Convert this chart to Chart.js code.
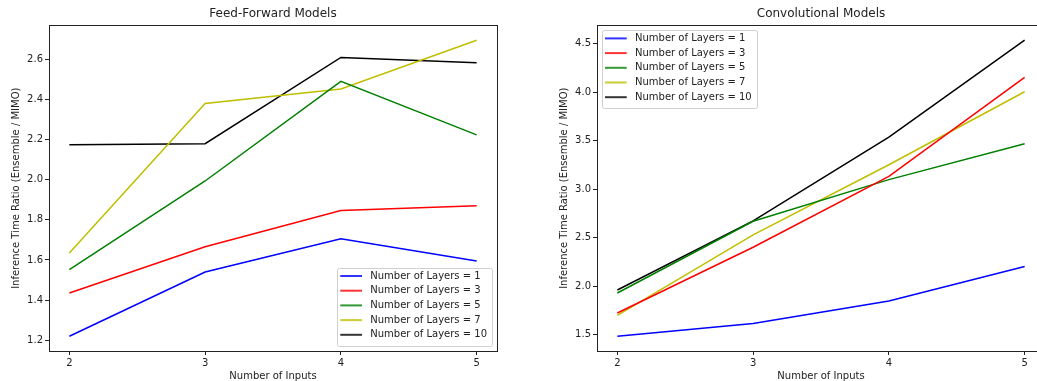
<!DOCTYPE html>
<html lang="en">
<head>
    <meta charset="UTF-8">
    <title>Inference Time Ratio</title>
    <style>
        * { margin: 0; padding: 0; box-sizing: border-box; }
        html, body { width: 1037px; height: 381px; overflow: hidden; background: #fff; }
        canvas { position: absolute; top: 0; }
        #ffChart { left: 0; }
        #convChart { left: 548px; }
    </style>
    <script src="https://cdn.jsdelivr.net/npm/chart.js"></script>
</head>
<body>
    <canvas id="ffChart" width="505" height="386"></canvas>
    <canvas id="convChart" width="505" height="386"></canvas>

    <script>
        // number of inputs on the x axis
        const inputs = [2, 3, 4, 5];
        const layerCounts = [1, 3, 5, 7, 10];
        const lineColors = ['#0000ff', '#ff0000', '#008000', '#bfbf00', '#000000'];

        // feed-forward models: ratio per layer count
        const ffLayers1 = [1.22, 1.54, 1.706, 1.595];
        const ffLayers3 = [1.435, 1.666, 1.847, 1.871];
        const ffLayers5 = [1.552, 1.994, 2.491, 2.224];
        const ffLayers7 = [1.635, 2.38, 2.453, 2.696];
        const ffLayers10 = [2.175, 2.18, 2.61, 2.583];

        // convolutional models: ratio per layer count
        const convLayers1 = [1.483, 1.613, 1.845, 2.202];
        const convLayers3 = [1.722, 2.40, 3.13, 4.151];
        const convLayers5 = [1.928, 2.668, 3.097, 3.466];
        const convLayers7 = [1.698, 2.528, 3.25, 4.003];
        const convLayers10 = [1.959, 2.672, 3.534, 4.534];

        const xTicks = [2, 3, 4, 5];
        const ffTicks = [1.2, 1.4, 1.6, 1.8, 2.0, 2.2, 2.4, 2.6];
        const convTicks = [1.5, 2.0, 2.5, 3.0, 3.5, 4.0, 4.5];

        const FONT = '"DejaVu Sans", sans-serif';
        const INK = '#222';

        // top/right spines to close the axes box
        const frame = {
            id: 'frame',
            afterDatasetsDraw(chart) {
                const { ctx, chartArea: a } = chart;
                ctx.save();
                ctx.strokeStyle = INK;
                ctx.lineWidth = 1;
                ctx.strokeRect(Math.round(a.left) + 0.5, Math.round(a.top) + 0.5,
                    Math.round(a.right - a.left), Math.round(a.bottom - a.top));
                ctx.restore();
            }
        };

        // legend drawn inside the plot area
        const insideLegend = {
            id: 'insideLegend',
            afterDraw(chart, args, opts) {
                const { ctx, chartArea: a } = chart;
                const sets = chart.data.datasets;
                ctx.save();
                ctx.font = '10px ' + FONT;
                const rowH = 14.7;
                const textW = Math.max(...sets.map(d => ctx.measureText(d.label).width));
                const w = 3.5 + 21.7 + 8.3 + textW + 5;
                const h = sets.length * rowH + 4;
                const x = opts.corner === 'lower right' ? a.right - 5 - w : a.left + 4.5;
                const y = opts.corner === 'lower right' ? a.bottom - 6 - h : a.top + 4.5;
                ctx.beginPath();
                ctx.roundRect(Math.round(x) + 0.5, Math.round(y) + 0.5, Math.round(w), Math.round(h), 2);
                ctx.fillStyle = 'rgba(255,255,255,0.8)';
                ctx.fill();
                ctx.strokeStyle = '#d0d0d0';
                ctx.lineWidth = 1;
                ctx.stroke();
                ctx.textBaseline = 'middle';
                sets.forEach((d, i) => {
                    const cy = y + 8.5 + i * rowH;
                    ctx.globalAlpha = 0.8;
                    ctx.strokeStyle = d.borderColor;
                    ctx.lineWidth = 2;
                    ctx.beginPath();
                    ctx.moveTo(x + 3.5, cy);
                    ctx.lineTo(x + 25.2, cy);
                    ctx.stroke();
                    ctx.globalAlpha = 1;
                    ctx.fillStyle = INK;
                    ctx.fillText(d.label, x + 33.5, cy);
                });
                ctx.restore();
            }
        };

        function bounds(series) {
            const all = series.flat();
            const lo = Math.min(...all), hi = Math.max(...all);
            const pad = (hi - lo) * 0.05;
            return [lo - pad, hi + pad];
        }

        function makeChart(id, title, series, yTicks, corner) {
            const [yMin, yMax] = bounds(series);
            const datasets = series.map((vals, i) => ({
                label: `Number of Layers = ${layerCounts[i]}`,
                data: inputs.map((x, j) => ({ x: x, y: vals[j] })),
                borderColor: lineColors[i],
                borderWidth: 1.5,
                pointRadius: 0,
                tension: 0,
                fill: false
            }));
            const axisFont = { family: FONT, size: 10 };
            return new Chart(document.getElementById(id), {
                type: 'line',
                data: { datasets },
                options: {
                    responsive: false,
                    animation: false,
                    devicePixelRatio: 1,
                    layout: { padding: { left: 0, right: 8, top: 0, bottom: 0 } },
                    plugins: {
                        legend: { display: false },
                        tooltip: { enabled: false },
                        title: {
                            display: true,
                            text: title,
                            fullSize: false,
                            color: INK,
                            font: { family: FONT, size: 12, weight: 'normal' },
                            padding: { top: 7, bottom: 4 }
                        },
                        insideLegend: { corner }
                    },
                    scales: {
                        x: {
                            type: 'linear',
                            min: 1.85,
                            max: 5.15,
                            afterBuildTicks: s => { s.ticks = xTicks.map(v => ({ value: v })); },
                            afterFit: s => { s.height = 35; },
                            grid: { drawOnChartArea: false, drawTicks: true, tickLength: 4, color: INK },
                            border: { display: true, color: INK },
                            ticks: { color: INK, font: axisFont, padding: 2, maxRotation: 0,
                                callback: v => String(v) },
                            title: { display: true, text: 'Number of Inputs', color: INK, font: axisFont,
                                padding: { top: 0, bottom: 4 } }
                        },
                        y: {
                            min: yMin,
                            max: yMax,
                            afterBuildTicks: s => { s.ticks = yTicks.map(v => ({ value: v })); },
                            afterFit: s => { s.width = 49; },
                            grid: { drawOnChartArea: false, drawTicks: true, tickLength: 4, color: INK },
                            border: { display: true, color: INK },
                            ticks: { color: INK, font: axisFont, padding: 2,
                                callback: v => v.toFixed(1) },
                            title: { display: true, text: 'Inference Time Ratio (Ensemble / MIMO)', color: INK,
                                font: axisFont, padding: { top: 10, bottom: 0 } }
                        }
                    }
                },
                plugins: [frame, insideLegend]
            });
        }

        makeChart('ffChart', 'Feed-Forward Models',
            [ffLayers1, ffLayers3, ffLayers5, ffLayers7, ffLayers10], ffTicks, 'lower right');
        makeChart('convChart', 'Convolutional Models',
            [convLayers1, convLayers3, convLayers5, convLayers7, convLayers10], convTicks, 'upper left');
    </script>
</body>
</html>
